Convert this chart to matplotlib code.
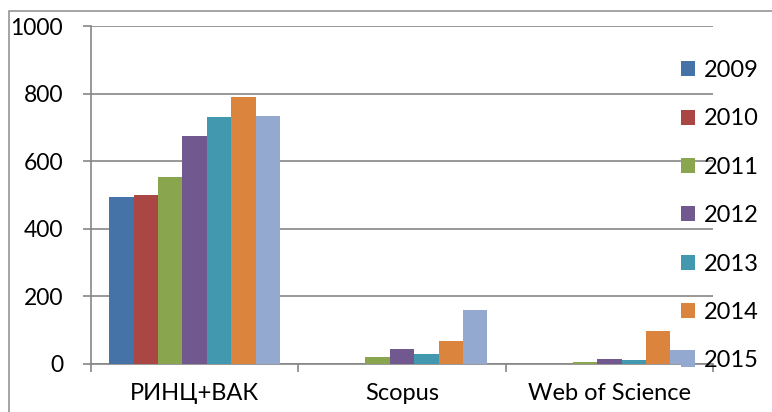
import matplotlib.pyplot as plt
import numpy as np
from matplotlib.patches import Rectangle

categories = ['РИНЦ+ВАК', 'Scopus', 'Web of Science']
years = ['2009', '2010', '2011', '2012', '2013', '2014', '2015']
values = {
    '2009': [493, 0, 0],
    '2010': [501, 0, 0],
    '2011': [552, 22, 5],
    '2012': [676, 45, 14],
    '2013': [730, 31, 13],
    '2014': [791, 67, 99],
    '2015': [735, 160, 42],
}
colors = ['#4572A7', '#AA4643', '#89A54E', '#71588F', '#4198AF', '#DB843D', '#93A9CF']

plt.rcParams['font.family'] = ['Lato', 'DejaVu Sans']

W, H = 772, 412
fig = plt.figure(figsize=(W / 100, H / 100), dpi=100)
ax = fig.add_axes([91 / W, 1 - 364 / H, (713 - 91) / W, (364 - 26) / H])

grey = '#868686'
x = np.arange(len(categories))
bw = 1 / 8.5
for i, y in enumerate(years):
    ax.bar(x + (i - 3) * bw, values[y], bw, color=colors[i], label=y, zorder=3)

ax.set_xlim(-0.5, len(categories) - 0.5)
ax.set_ylim(0, 1000)
ax.set_yticks(range(0, 1001, 200))
ax.grid(axis='y', color=grey, linewidth=1.2, zorder=0)
ax.set_xticks(x)
ax.set_xticklabels(categories, fontsize=17)
ax.tick_params(axis='x', which='major', length=0, pad=14)
ax.set_xticks(np.arange(-0.5, len(categories), 1), minor=True)
ax.tick_params(axis='x', which='minor', length=6, color=grey, width=1.2)
ax.tick_params(axis='y', length=6, color=grey, width=1.2, labelsize=16.5, pad=14)
for s in ['top', 'right']:
    ax.spines[s].set_visible(False)
for s in ['left', 'bottom']:
    ax.spines[s].set_color(grey)
    ax.spines[s].set_linewidth(1.2)

leg = fig.legend(loc='upper left', bbox_to_anchor=(681 / W, 1 - 60 / H), frameon=False,
                 fontsize=17, handlelength=0.6, handleheight=0.6, handletextpad=0.35,
                 labelspacing=1.16, borderpad=0, borderaxespad=0)
leg.set_zorder(1)

# chart area border: only left and top edges fall inside the image
fig.patches.append(Rectangle((8.5 / W, -5 / H), 780 / W, (H - 10.5 + 5) / H,
                             transform=fig.transFigure, fill=False,
                             edgecolor='#8c8c8c', linewidth=1.1))

fig.savefig('out.png', dpi=100)
